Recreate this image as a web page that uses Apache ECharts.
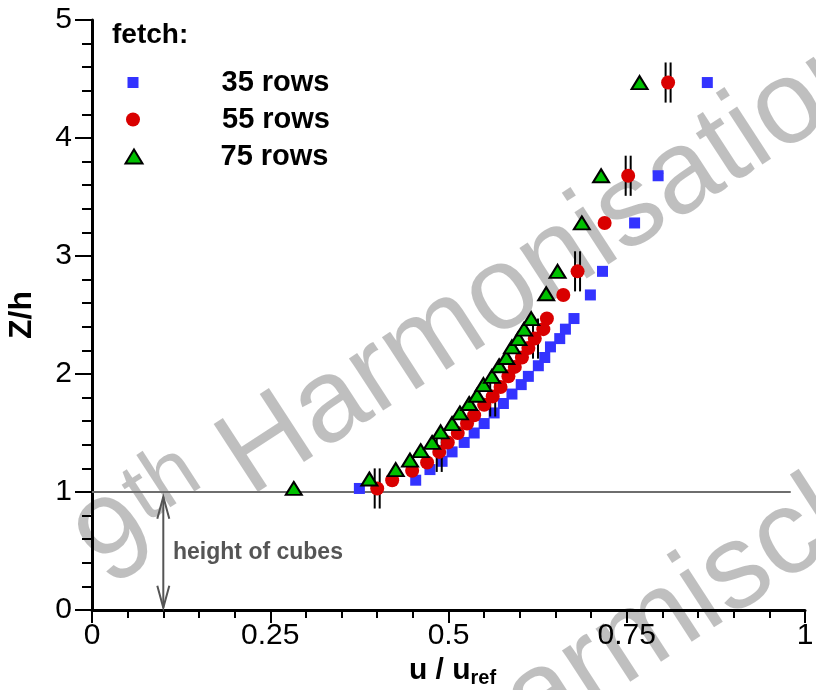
<!DOCTYPE html>
<html><head><meta charset="utf-8">
<script src="https://cdn.jsdelivr.net/npm/echarts@6/dist/echarts.min.js"></script>
<style>html,body{margin:0;padding:0;background:#fff}#c{width:816px;height:690px}</style>
</head><body><div id="c"></div>
<script>
// ---- data ----
const xTicks = [0, 0.25, 0.5, 0.75, 1];
const xTickLabels = ['0', '0.25', '0.5', '0.75', '1'];
const yTicks = [0, 1, 2, 3, 4, 5];
const yTickLabels = ['0', '1', '2', '3', '4', '5'];
const seriesNames = ['35 rows', '55 rows', '75 rows'];

const z35 = [1.03, 1.10, 1.19, 1.26, 1.34, 1.42, 1.50, 1.58, 1.67, 1.75, 1.83, 1.91, 1.98, 2.07, 2.14, 2.23, 2.30, 2.38, 2.47, 2.67, 2.87, 3.28, 3.68, 4.47];
const u35 = [0.375, 0.454, 0.474, 0.491, 0.505, 0.522, 0.536, 0.550, 0.564, 0.577, 0.589, 0.602, 0.612, 0.626, 0.635, 0.643, 0.656, 0.664, 0.676, 0.699, 0.716, 0.761, 0.794, 0.863];

const z55 = [1.03, 1.10, 1.18, 1.25, 1.34, 1.42, 1.50, 1.58, 1.65, 1.74, 1.81, 1.89, 1.98, 2.06, 2.14, 2.22, 2.30, 2.38, 2.47, 2.67, 2.87, 3.28, 3.68, 4.47];
const u55 = [0.400, 0.421, 0.449, 0.470, 0.487, 0.499, 0.513, 0.526, 0.536, 0.550, 0.562, 0.573, 0.584, 0.593, 0.603, 0.612, 0.621, 0.633, 0.638, 0.661, 0.681, 0.719, 0.752, 0.808];

const z75 = [1.03, 1.11, 1.19, 1.27, 1.35, 1.42, 1.51, 1.58, 1.67, 1.75, 1.82, 1.91, 1.98, 2.07, 2.14, 2.23, 2.30, 2.38, 2.47, 2.68, 2.87, 3.28, 3.68, 4.47];
const u75 = [0.283, 0.389, 0.426, 0.446, 0.461, 0.477, 0.489, 0.505, 0.516, 0.529, 0.540, 0.549, 0.561, 0.571, 0.581, 0.589, 0.598, 0.606, 0.616, 0.637, 0.653, 0.687, 0.714, 0.768];

// error bars on the 55-rows profile
const errU = [0.400, 0.487, 0.562, 0.622, 0.681, 0.752, 0.808];
const errZ = [1.03, 1.34, 1.81, 2.30, 2.87, 3.68, 4.47];
const errHalf = [0.17, 0.17, 0.17, 0.17, 0.17, 0.17, 0.17];

// cube-height reference line and arrow
const refLineU = [0, 0.98];
const refLineZ = [1, 1];
const arrowU = [0.1];
const arrowZ = [[0.02, 0.96]];

// ---- chart ----
const FONT = '"Liberation Sans", Arial, Helvetica, sans-serif';
const WM = 'rgba(0,0,0,0.25)';
const WM_ANGLE = 33 * Math.PI / 180;
const pairs = (xs, ys) => xs.map((x, i) => [x, ys[i]]);
const chart = echarts.init(document.getElementById('c'), null, {renderer: 'canvas'});

function legendFor(name, top, size, icon, pad) {
  return {
    data: [{name: name, icon: icon}],
    left: 128 - size[0] / 2, top: top,
    itemWidth: size[0], itemHeight: size[1],
    selectedMode: false,
    textStyle: {fontFamily: FONT, fontSize: 29, fontWeight: 'bold', color: '#000', padding: [0, 0, 0, pad]}
  };
}

const option = {
  animation: false,
  backgroundColor: '#fff',
  grid: {left: 92, right: 11, top: 20, bottom: 80, containLabel: false, outerBoundsMode: 'none'},
  legend: [
    legendFor(seriesNames[0], 63, [11, 11], 'rect', 78),
    legendFor(seriesNames[1], 100, [14, 14], 'circle', 77),
    legendFor(seriesNames[2], 137, [17, 14], 'triangle', 73)
  ],
  xAxis: {
    type: 'value', min: xTicks[0], max: xTicks[xTicks.length - 1], interval: 0.25,
    axisLine: {onZero: false, lineStyle: {color: '#000', width: 3}},
    axisTick: {show: true, inside: false, length: 13, lineStyle: {color: '#000', width: 2}},
    minorTick: {show: true, splitNumber: 5, length: 8, lineStyle: {color: '#000', width: 2}},
    splitLine: {show: false},
    axisLabel: {fontFamily: FONT, fontSize: 30, color: '#000', margin: 11,
      formatter: v => { const i = xTicks.findIndex(t => Math.abs(t - v) < 1e-9); return i >= 0 ? xTickLabels[i] : ''; }},
    name: '{a|u / u}{b|ref}', nameLocation: 'middle', nameGap: 41,
    nameTextStyle: {padding: [0, 0, 0, 8], rich: {
      a: {fontFamily: FONT, fontSize: 30, fontWeight: 'bold', color: '#000'},
      b: {fontFamily: FONT, fontSize: 20, fontWeight: 'bold', color: '#000', padding: [16, 0, 0, 0]}
    }}
  },
  yAxis: {
    type: 'value', min: yTicks[0], max: yTicks[yTicks.length - 1], interval: 1,
    axisLine: {onZero: false, lineStyle: {color: '#000', width: 3}},
    axisTick: {show: true, inside: false, length: 17, lineStyle: {color: '#000', width: 2}},
    minorTick: {show: true, splitNumber: 5, length: 10, lineStyle: {color: '#000', width: 2}},
    splitLine: {show: false},
    axisLabel: {fontFamily: FONT, fontSize: 30, color: '#000', margin: 20,
      formatter: v => { const i = yTicks.findIndex(t => Math.abs(t - v) < 1e-9); return i >= 0 ? yTickLabels[i] : ''; }},
    name: 'Z/h', nameLocation: 'middle', nameRotate: 90, nameGap: 54,
    nameTextStyle: {fontFamily: FONT, fontSize: 32, fontWeight: 'bold', color: '#000'}
  },
  graphic: [
    {type: 'text', left: 112, top: 21, z: 10,
      style: {text: 'fetch:', font: 'bold 28px ' + FONT, fill: '#000'}},
    {type: 'text', x: 173, y: 553, z: 10,
      style: {text: 'height of cubes', font: 'bold 23px ' + FONT, fill: '#555', verticalAlign: 'middle'}},
    // watermark
    {type: 'group', x: 59, y: 512, rotation: WM_ANGLE, z: 100, silent: true,
      children: [
        {type: 'text', x: 0, y: 0, style: {text: '9', font: '118px ' + FONT, fill: WM}},
        {type: 'text', x: 66, y: -10, style: {text: 'th', font: '86px ' + FONT, fill: WM}},
        {type: 'text', x: 168, y: 0, style: {text: 'Harmonisation', font: '118px ' + FONT, fill: WM}}
      ]},
    {type: 'group', x: 482, y: 667, rotation: WM_ANGLE, z: 100, silent: true,
      children: [
        {type: 'text', x: -92, y: 0, style: {text: 'Garmisch-Partenkirchen', font: '120px ' + FONT, fill: WM}}
      ]}
  ],
  series: [
    {type: 'line', data: pairs(refLineU, refLineZ), symbol: 'none', silent: true, z: 1,
      lineStyle: {color: '#6e6e6e', width: 2}},
    {type: 'custom', silent: true, z: 1,
      data: arrowU.map((u, i) => [u, arrowZ[i][0], arrowZ[i][1]]),
      renderItem: (params, api) => {
        const b = api.coord([api.value(0), api.value(1)]);
        const t = api.coord([api.value(0), api.value(2)]);
        const st = {stroke: '#555', lineWidth: 2, fill: null};
        return {type: 'group', children: [
          {type: 'line', shape: {x1: t[0], y1: t[1], x2: b[0], y2: b[1]}, style: st},
          {type: 'polyline', shape: {points: [[t[0] - 6, t[1] + 22], [t[0], t[1]], [t[0] + 6, t[1] + 22]]}, style: st},
          {type: 'polyline', shape: {points: [[b[0] - 6, b[1] - 22], [b[0], b[1]], [b[0] + 6, b[1] - 22]]}, style: st}
        ]};
      }},
    {name: seriesNames[0], type: 'scatter', data: pairs(u35, z35), symbol: 'rect', symbolSize: 11, z: 3,
      itemStyle: {color: '#3333ff', opacity: 1}},
    {type: 'custom', silent: true, z: 4,
      data: errU.map((u, i) => [u, errZ[i], errHalf[i]]),
      renderItem: (params, api) => {
        const u = api.value(0), z = api.value(1), d = api.value(2);
        const t = api.coord([u, z + d]), b = api.coord([u, z - d]);
        const st = {stroke: '#000', lineWidth: 2};
        return {type: 'group', children: [
          {type: 'line', shape: {x1: t[0] - 2.5, y1: t[1], x2: b[0] - 2.5, y2: b[1]}, style: st},
          {type: 'line', shape: {x1: t[0] + 2.5, y1: t[1], x2: b[0] + 2.5, y2: b[1]}, style: st}
        ]};
      }},
    {name: seriesNames[1], type: 'scatter', data: pairs(u55, z55), symbol: 'circle', symbolSize: 14, z: 5,
      itemStyle: {color: '#d90000', opacity: 1}},
    {name: seriesNames[2], type: 'scatter', data: pairs(u75, z75), symbol: 'triangle', symbolSize: [16, 13], z: 6,
      itemStyle: {color: '#00c000', borderColor: '#000', borderWidth: 2, opacity: 1}}
  ]
};
chart.setOption(option);
</script></body></html>
